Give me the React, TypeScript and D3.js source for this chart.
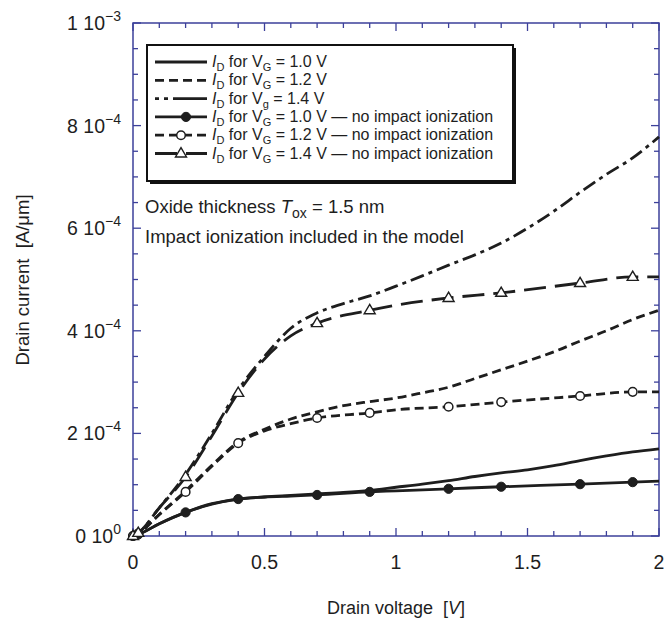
import React from "react";
import * as d3 from "d3";

// Drain voltage [V] for curves with impact ionization
const V_II = [0, 0.02, 0.1, 0.2, 0.3, 0.4, 0.5, 0.6, 0.7, 0.8, 0.9, 1.0, 1.1, 1.2, 1.3, 1.4, 1.5, 1.6, 1.7, 1.8, 1.9, 2.0];
// Drain current [1e-4 A/um]
const I10_II = [0, 0.03, 0.24, 0.46, 0.62, 0.72, 0.76, 0.79, 0.82, 0.85, 0.89, 0.95, 1.01, 1.08, 1.16, 1.23, 1.29, 1.37, 1.47, 1.56, 1.64, 1.7];
const I12_II = [0, 0.05, 0.42, 0.88, 1.38, 1.83, 2.08, 2.28, 2.42, 2.54, 2.62, 2.69, 2.79, 2.9, 3.07, 3.24, 3.41, 3.59, 3.8, 4.0, 4.22, 4.4];
const I14_II = [0, 0.06, 0.55, 1.2, 2.0, 2.85, 3.5, 4.05, 4.35, 4.53, 4.68, 4.87, 5.07, 5.28, 5.48, 5.71, 6.0, 6.33, 6.7, 7.05, 7.37, 7.78];

// No impact ionization
const V_N = [0, 0.02, 0.1, 0.2, 0.3, 0.4, 0.5, 0.6, 0.7, 0.9, 1.0, 1.2, 1.4, 1.7, 1.9, 2.0];
const I10_N = [0, 0.03, 0.24, 0.46, 0.63, 0.72, 0.76, 0.78, 0.8, 0.86, 0.88, 0.92, 0.96, 1.01, 1.05, 1.07];
const I12_N = [0, 0.05, 0.42, 0.86, 1.36, 1.81, 2.05, 2.19, 2.3, 2.4, 2.46, 2.52, 2.61, 2.73, 2.81, 2.81];
const I14_N = [0, 0.06, 0.55, 1.15, 1.95, 2.79, 3.45, 3.9, 4.15, 4.4, 4.5, 4.64, 4.74, 4.93, 5.05, 5.05];
const MARK_V = [0, 0.02, 0.2, 0.4, 0.7, 0.9, 1.2, 1.4, 1.7, 1.9];

const X_TICKS = [0, 0.5, 1, 1.5, 2];
const X_TICK_LABELS = ["0", "0.5", "1", "1.5", "2"];
const Y_TICKS = [0, 2, 4, 6, 8, 10];
const Y_TICK_MANT = ["0", "2", "4", "6", "8", "1"];
const Y_TICK_EXP = ["0", "\u22124", "\u22124", "\u22124", "\u22124", "\u22123"];

const VG_LABELS = ["1.0", "1.2", "1.4", "1.0", "1.2", "1.4"];
const VG_SUBS = ["G", "G", "g", "G", "G", "G"];
const LEGEND_SUFFIX = ["", "", "", " \u2014 no impact ionization", " \u2014 no impact ionization", " \u2014 no impact ionization"];

const FONT = "'Liberation Sans', Arial, Helvetica, sans-serif";
const AXIS = "#3c409a";
const INK = "#1e1e1e";

const L = 133, R = 659, T = 23, B = 536;

type Style = { dash: string; marker: "none" | "filled" | "open" | "tri"; legendDash?: string };
const STYLES: Style[] = [
  { dash: "", marker: "none" },
  { dash: "9 5", marker: "none" },
  { dash: "14 5 4 5", marker: "none", legendDash: "4 5 4 5 40 5" },
  { dash: "", marker: "filled" },
  { dash: "9 5", marker: "open" },
  { dash: "22 9", marker: "tri" },
];

function Marker({ kind, x, y }: { kind: string; x: number; y: number }) {
  if (kind === "filled") return <circle cx={x} cy={y} r={4.6} fill={INK} stroke={INK} strokeWidth={1} />;
  if (kind === "open") return <circle cx={x} cy={y} r={4.3} fill="#fff" stroke={INK} strokeWidth={1.5} />;
  if (kind === "tri") {
    const s = 5.8;
    return (
      <path
        d={`M${x},${y - s}L${x + s * 0.95},${y + s * 0.6}L${x - s * 0.95},${y + s * 0.6}Z`}
        fill="#fff"
        stroke={INK}
        strokeWidth={1.4}
      />
    );
  }
  return null;
}

export default function App() {
  const x = d3.scaleLinear().domain([0, 2]).range([L, R]);
  const y = d3.scaleLinear().domain([0, 10]).range([B, T]);
  const line = d3
    .line<[number, number]>()
    .x((d) => x(d[0]))
    .y((d) => y(d[1]))
    .curve(d3.curveMonotoneX);

  const series: { v: number[]; i: number[]; style: Style }[] = [
    { v: V_II, i: I10_II, style: STYLES[0] },
    { v: V_II, i: I12_II, style: STYLES[1] },
    { v: V_II, i: I14_II, style: STYLES[2] },
    { v: V_N, i: I10_N, style: STYLES[3] },
    { v: V_N, i: I12_N, style: STYLES[4] },
    { v: V_N, i: I14_N, style: STYLES[5] },
  ];

  const xMinor = d3.range(0, 21).map((k) => k / 10);
  const yMinor = d3.range(0, 21).map((k) => k / 2);

  const lx0 = 155, lx1 = 207, ltx = 212;
  const rowY = (k: number) => 62 + k * 18.3;

  return (
    <svg width={664} height={619} style={{ position: "absolute", left: 0, top: 0 }} fontFamily={FONT}>
      <rect x={0} y={0} width={664} height={619} fill="#fff" />
      {/* Axes frame */}
      <rect x={L} y={T} width={R - L} height={B - T} fill="none" stroke={AXIS} strokeWidth={1.5} />
      {xMinor.map((v, k) => {
        const len = k % 5 === 0 ? 8 : 5;
        return (
          <g key={"xt" + k} stroke={AXIS} strokeWidth={1.3}>
            <line x1={x(v)} x2={x(v)} y1={B} y2={B - len} />
            <line x1={x(v)} x2={x(v)} y1={T} y2={T + len} />
          </g>
        );
      })}
      {yMinor.map((v, k) => {
        const len = k % 4 === 0 ? 8 : 5;
        return (
          <g key={"yt" + k} stroke={AXIS} strokeWidth={1.3}>
            <line x1={L} x2={L + len} y1={y(v)} y2={y(v)} />
            <line x1={R} x2={R - len} y1={y(v)} y2={y(v)} />
          </g>
        );
      })}
      {/* Tick labels */}
      {X_TICKS.map((v, k) => (
        <text key={"xl" + k} x={x(v)} y={569} textAnchor="middle" fontSize={19.5} fill={INK}>
          {X_TICK_LABELS[k]}
        </text>
      ))}
      {Y_TICKS.map((v, k) => (
        <text key={"yl" + k} x={121} y={y(v) + 7} textAnchor="end" fontSize={19.5} fill={INK}>
          {Y_TICK_MANT[k] + " 10"}
          <tspan fontSize={14} dy={-9}>
            {Y_TICK_EXP[k]}
          </tspan>
        </text>
      ))}
      {/* Axis titles */}
      <text x={396} y={614} textAnchor="middle" fontSize={18} fill={INK}>
        {"Drain voltage\u00a0\u00a0["}
        <tspan fontStyle="italic">V</tspan>
        {"]"}
      </text>
      <text transform="translate(29,280) rotate(-90)" textAnchor="middle" fontSize={18.5} fill={INK}>
        {"Drain current\u00a0\u00a0[A/\u03bcm]"}
      </text>

      {/* Curves */}
      {series.map((s, k) => (
        <path
          key={"c" + k}
          d={line(s.v.map((v, j) => [v, s.i[j]] as [number, number])) || ""}
          fill="none"
          stroke={INK}
          strokeWidth={2.8}
          strokeDasharray={s.style.dash}
        />
      ))}
      {series.map((s, k) =>
        s.style.marker === "none"
          ? null
          : MARK_V.map((mv, j) => {
              const idx = s.v.indexOf(mv);
              return <Marker key={"m" + k + "_" + j} kind={s.style.marker} x={x(mv)} y={y(s.i[idx])} />;
            })
      )}

      {/* Legend */}
      <rect x={150} y={48} width={366} height={136} fill="#111" />
      <rect x={147} y={45} width={366} height={136} fill="#fff" stroke="#111" strokeWidth={2} />
      {STYLES.map((st, k) => {
        const yy = rowY(k);
        return (
          <g key={"lg" + k}>
            <line
              x1={lx0}
              x2={lx1}
              y1={yy}
              y2={yy}
              stroke={INK}
              strokeWidth={2.8}
              strokeDasharray={st.legendDash ?? st.dash}
            />
            <Marker kind={st.marker} x={(lx0 + lx1) / 2 + (st.marker === "filled" ? 5 : 0)} y={yy} />
            <text x={ltx} y={yy + 5} fontSize={16} fill={INK}>
              <tspan fontStyle="italic">I</tspan>
              <tspan fontSize={11} dy={4}>D</tspan>
              <tspan dy={-4}>{" for V"}</tspan>
              <tspan fontSize={11} dy={4}>{VG_SUBS[k]}</tspan>
              <tspan dy={-4}>{" = " + VG_LABELS[k] + " V" + LEGEND_SUFFIX[k]}</tspan>
            </text>
          </g>
        );
      })}

      {/* Annotations */}
      <text x={145} y={213} fontSize={18.5} fill={INK}>
        {"Oxide thickness "}
        <tspan fontStyle="italic">T</tspan>
        <tspan fontSize={14} dy={5}>ox</tspan>
        <tspan dy={-5}>{" = 1.5 nm"}</tspan>
      </text>
      <text x={145} y={243} fontSize={18.5} fill={INK}>
        Impact ionization included in the model
      </text>
    </svg>
  );
}
